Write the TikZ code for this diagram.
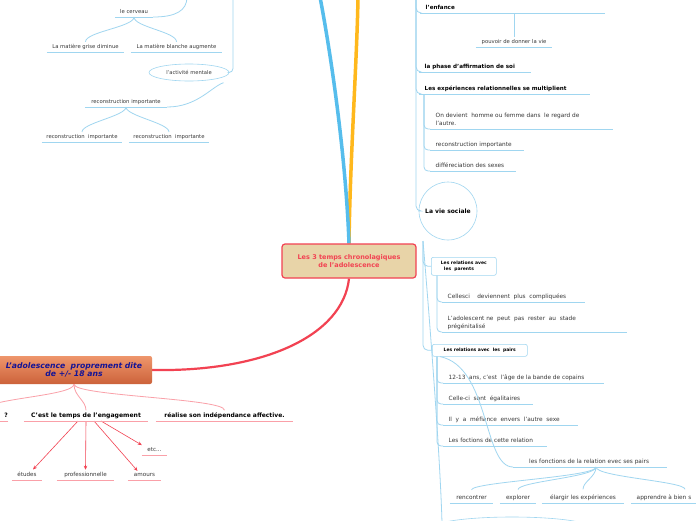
\documentclass[tikz,border=0pt]{standalone}
\usepackage{fontspec}
\setmainfont{DejaVu Sans}
\usetikzlibrary{arrows.meta, positioning, shapes.geometric, backgrounds, calc}

\definecolor{lblue}{RGB}{160,214,240}
\definecolor{mblue}{RGB}{86,189,236}
\definecolor{morange}{RGB}{255,184,28}
\definecolor{mred}{RGB}{242,66,82}
\definecolor{lpink}{RGB}{250,160,168}
\definecolor{tan}{RGB}{232,212,168}
\definecolor{txtgrey}{RGB}{55,55,55}
\definecolor{navy}{RGB}{20,20,150}
\definecolor{brtop}{RGB}{238,150,108}
\definecolor{brbot}{RGB}{204,98,58}

\begin{document}
\begin{tikzpicture}[x=1pt, y=-1pt,
  twig/.style={draw=lblue, line width=0.8pt},
  ptwig/.style={draw=lpink, line width=0.8pt},
  arr/.style={draw=mred, line width=0.6pt, -{Stealth[length=4pt, width=3.5pt]}},
  leaf/.style={anchor=south west, inner xsep=5.5pt, inner ysep=2.2pt, text depth=1.3pt,
    align=left, text=txtgrey, font=\fontsize{5.8}{7.4}\selectfont},
  topic/.style={leaf, text=black, font=\fontsize{5.6}{7}\selectfont\bfseries},
  stem/.style={anchor=south, inner xsep=0pt, inner ysep=2.2pt, text depth=1.2pt,
    minimum width=#1, text=txtgrey, font=\fontsize{5.3}{6.4}\selectfont},
  relbox/.style={draw=lblue, line width=0.6pt, rounded corners=2pt, anchor=north west,
    inner sep=1.5pt, align=left, font=\fontsize{4.5}{5.4}\selectfont\bfseries},
  bubble/.style={draw=lblue, line width=0.6pt, inner sep=0pt}
]
\useasboundingbox (0,0) rectangle (696,520);

% centre and main branches
\node[draw=mred, line width=1.2pt, fill=tan, rounded corners=3pt, minimum width=134,
  minimum height=34, align=center, text=mred, font=\fontsize{6.5}{8.5}\selectfont\bfseries]
  (centre) at (349,261) {Les 3 temps chronolagiques\\de l'adolescence};
\node[top color=brtop, bottom color=brbot, rounded corners=2pt, minimum width=156,
  minimum height=28, align=center, text=navy, font=\fontsize{7.7}{8.8}\selectfont\bfseries\itshape]
  (adol) at (74,370) {L'adolescence\ \ proprement dite\\de +/- 18 ans};
\coordinate (btop) at (320,-3);
\coordinate (otop) at (358,-3);

\begin{scope}[on background layer]
  \fill[white] (0,0) rectangle (696,520);
  \draw[morange, line width=3.5pt] (centre.north) .. controls (350,160) and (357,60) .. (otop);
  \draw[mblue, line width=3.5pt] (centre.north) .. controls (346,160) and (332,60) .. (btop);
  \draw[mred, line width=2.2pt] (centre.south) .. controls (343,335) and (265,372) .. (adol.east);
\end{scope}

% upper left
\coordinate (cerveautop) at (187,-3);
\coordinate (mentaltop) at (233,-3);
\node[stem=38] (cerveau) at (134,17) {le cerveau};
\node[stem=77] (grise) at (85.5,52) {La matière grise diminue};
\node[stem=91] (blanche) at (176.5,52) {La matière blanche augmente};
\node[bubble, ellipse, minimum width=80, minimum height=17, text=txtgrey,
  font=\fontsize{5.2}{6}\selectfont] (mental) at (189,72.5) {l'activité mentale};
\node[stem=82] (recon) at (126,107) {reconstruction importante};
\node[stem=80] (reconA) at (82,142) {reconstruction\ \ importante};
\node[stem=80] (reconB) at (169,142) {reconstruction\ \ importante};

\draw[twig] (cerveautop) .. controls +(0,14) and +(22,0) .. (cerveau.south east);
\draw[twig] (cerveau.south) .. controls +(0,10) and +(0,-10) .. (grise.north);
\draw[twig] (cerveau.south) .. controls +(0,10) and +(0,-10) .. (blanche.north);
\draw[twig, rounded corners=4pt] (mentaltop) |- (mental.east);
\draw[twig] ([shift={(6pt,-4pt)}]mental.south east) .. controls +(-12,4) and +(30,0) .. (recon.south east);
\draw[twig] (recon.south) .. controls +(0,9) and +(0,-9) .. (reconA.north);
\draw[twig] (recon.south) .. controls +(0,9) and +(0,-9) .. (reconB.north);

% right side
\coordinate (rtop) at (416,-3);
\node[topic] (enfance) at (420,13) {l'enfance};
\node[stem=76] (pouvoir) at (514,47) {pouvoir de donner la vie};
\node[topic] (affirm) at (419,72) {la phase d'affirmation de soi};
\node[topic] (exper) at (419,94) {Les expériences relationnelles se multiplient};
\node[leaf] (devient) at (430,129) {On devient\ \ homme ou femme dans\ \ le regard de\\l'autre.};
\node[leaf] (reconC) at (430,150) {reconstruction importante};
\node[leaf] (sexes) at (430,171) {différeciation des sexes};
\node[bubble, circle, minimum size=58, font=\fontsize{6}{7}\selectfont\bfseries] (vie) at (448,211) {La vie sociale};

\draw[twig, rounded corners=5pt] (rtop) |- (enfance.south west);
\draw[twig, rounded corners=5pt] (rtop) |- (affirm.south west);
\draw[twig, rounded corners=5pt] (rtop) |- (exper.south west);
\draw[twig, rounded corners=5pt] (rtop) |- (vie.west);
\draw[twig] (enfance.south -| pouvoir.north) -- (pouvoir.north);
\foreach \n in {devient, reconC, sexes}
  \draw[twig, rounded corners=4pt] ([xshift=5pt]exper.south west) |- (\n.south west);

\coordinate (socroot) at (423,241);
\coordinate (spinebot) at (442,523);
\node[relbox, minimum width=65, minimum height=18] (parents) at (431,257) {Les relations avec\\\ \ les\ \ parents};
\node[leaf] (celles) at (442,302) {Cellesci\ \ \ \ deviennent\ \ plus\ \ compliquées};
\node[leaf] (stade) at (442,332) {L'adolescent ne\ \ peut\ \ pas\ \ rester\ \ au\ \ stade\\prégénitalisé};
\node[relbox, minimum width=95, minimum height=12] (pairs) at (432,344) {Les relations avec\ \ les\ \ pairs};
\node[leaf] (bande) at (443,383) {12-13\ \ ans, c'est\ \ l'âge de la bande de copains};
\node[leaf] (egal) at (443,404) {Celle-ci\ \ sont\ \ égalitaires};
\node[leaf] (mefiance) at (443,425) {Il\ \ y\ \ a\ \ méfiance\ \ envers\ \ l'autre\ \ sexe};
\node[leaf] (foctions) at (443,446) {Les foctions de cette relation};
\node[leaf, inner xsep=16pt] (fonctions) at (513,467) {les fonctions de la relation evec ses pairs};
\coordinate (fork) at ([xshift=83pt]fonctions.south west);
\node[stem=43, font=\fontsize{5.8}{7}\selectfont] (rencontrer) at (471.5,503) {rencontrer};
\node[stem=36, font=\fontsize{5.8}{7}\selectfont] (explorer) at (518,503) {explorer};
\node[stem=82, font=\fontsize{5.8}{7}\selectfont] (elargir) at (583,503) {élargir les expériences};
\node[leaf] (apprendre) at (631,503) {apprendre à bien s};
\node[bubble, ellipse, minimum width=160, minimum height=22] (suite) at (512,528) {};

\draw[twig, rounded corners=5pt] (socroot) |- (parents.west);
\draw[twig, rounded corners=5pt] (socroot) |- (pairs.west);
\draw[twig] (socroot) .. controls (428,300) and (440,450) .. (spinebot);
\foreach \n in {celles, stade}
  \draw[twig, rounded corners=4pt] ([xshift=6pt]parents.south west) |- (\n.south west);
\foreach \n in {bande, egal, mefiance, foctions}
  \draw[twig, rounded corners=4pt] ([xshift=5pt]pairs.south west) |- (\n.south west);
\draw[twig] ([xshift=8pt]pairs.south west) .. controls +(50,10) and +(-30,0) .. (fonctions.south west);
\foreach \n in {rencontrer, explorer, elargir}
  \draw[twig] (fork) .. controls +(0,10) and +(0,-8) .. ([yshift=3pt]\n.north);
\draw[twig] (fork) .. controls +(0,10) and +(0,-8) .. ([shift={(-12pt,3pt)}]apprendre.north east);

% underlines
\foreach \n/\w in {enfance/185, affirm/112, exper/171, devient/183, reconC/94, sexes/86,
  celles/143, stade/185, bande/161, egal/90, mefiance/135, foctions/104, fonctions/154, apprendre/70}
  \draw[twig] (\n.south west) -- ++(\w,0);
\foreach \n in {cerveau, grise, blanche, recon, reconA, reconB, pouvoir, rencontrer, explorer, elargir}
  \draw[twig] (\n.south west) -- (\n.south east);

% lower left
\node[stem=0, anchor=south east, text width=50, align=right, text=black,
  font=\fontsize{6}{7}\selectfont\bfseries] (qmark) at (8,421) {?};
\node[stem=124, text=black, font=\fontsize{6.1}{7}\selectfont\bfseries] (engage) at (86,421) {C'est le temps de l'engagement};
\node[stem=137, text=black, font=\fontsize{6}{7}\selectfont\bfseries] (realise) at (224.5,421) {réalise son indépendance affective.};
\node[stem=30, font=\fontsize{5.6}{7}\selectfont] (etudes) at (27,480) {études};
\node[stem=57, font=\fontsize{5.6}{7}\selectfont] (profess) at (85.5,480) {professionnelle};
\node[stem=33, font=\fontsize{5.6}{7}\selectfont] (amours) at (144.5,480) {amours};
\node[stem=25, font=\fontsize{5.6}{7}\selectfont] (etc) at (154.5,455) {etc...};

\draw[ptwig] (adol.south) .. controls +(0,12) and +(0,-12) .. (qmark.north);
\draw[ptwig] (adol.south) .. controls +(0,12) and +(0,-10) .. (engage.north);
\draw[ptwig] (adol.south) .. controls +(0,12) and +(0,-12) .. (realise.north);
\draw[arr] ([xshift=-8pt]engage.south) -- ([xshift=6pt]etudes.north);
\draw[arr] (engage.south) -- (profess.north);
\draw[arr] ([xshift=8pt]engage.south) -- ([xshift=-7pt]amours.north);
\draw[arr] ([xshift=15pt]engage.south) -- (etc.north west);
\foreach \n in {engage, realise, etudes, profess, amours, etc}
  \draw[ptwig] (\n.south west) -- (\n.south east);
\draw[ptwig] (qmark.south east) -- ++(-60,0);
\end{tikzpicture}
\end{document}
